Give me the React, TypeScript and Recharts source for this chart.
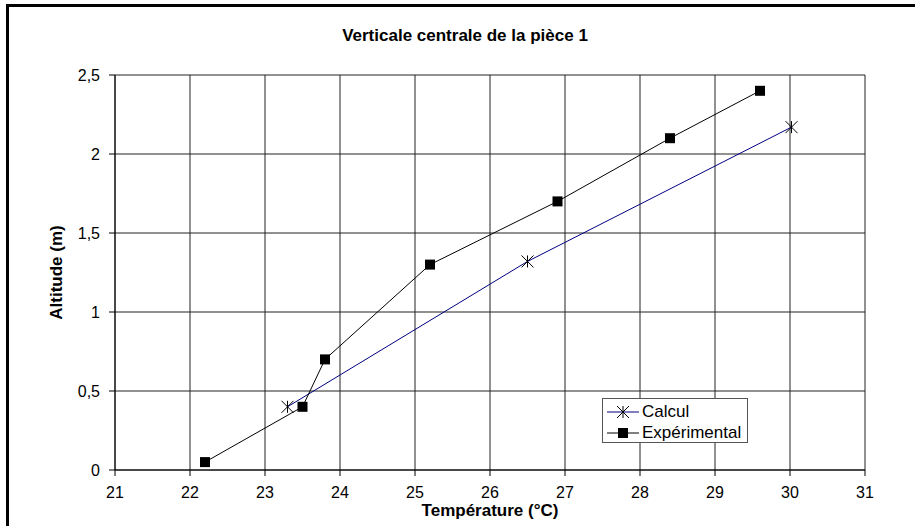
import React from 'react';
import { LineChart, Line, XAxis, YAxis, CartesianGrid, Label } from 'recharts';

const tempTicks = [21, 22, 23, 24, 25, 26, 27, 28, 29, 30, 31];
const altTicks = [0, 0.5, 1, 1.5, 2, 2.5];

const calculTemp = [23.3, 26.5, 30.02];
const calculAlt = [0.4, 1.32, 2.17];

const expTemp = [22.2, 23.5, 23.8, 25.2, 26.9, 28.4, 29.6];
const expAlt = [0.05, 0.4, 0.7, 1.3, 1.7, 2.1, 2.4];

const seriesNames = ['Calcul', 'Expérimental'];

const calculData = calculTemp.map((t, i) => ({ x: t, y: calculAlt[i] }));
const expData = expTemp.map((t, i) => ({ x: t, y: expAlt[i] }));

const FONT = '"Liberation Sans", Arial, sans-serif';

const StarDot = (props: any) => {
  const { cx, cy } = props;
  if (cx == null || cy == null) return null;
  const r = 6;
  return (
    <g stroke="#000" strokeWidth={1}>
      <line x1={cx - r} y1={cy - r} x2={cx + r} y2={cy + r} />
      <line x1={cx - r} y1={cy + r} x2={cx + r} y2={cy - r} />
      <line x1={cx} y1={cy - r} x2={cx} y2={cy + r} />
    </g>
  );
};

const SquareDot = (props: any) => {
  const { cx, cy } = props;
  if (cx == null || cy == null) return null;
  return <rect x={cx - 5} y={cy - 5} width={10} height={10} fill="#000" />;
};

const fmt = (v: number) => String(v).replace('.', ',');

const YTitle = (props: any) => {
  const vb = props.viewBox || { x: 0, y: 0, width: 0, height: 0 };
  const x = vb.x + 62;
  const y = vb.y + vb.height / 2;
  return (
    <text
      x={x}
      y={y}
      transform={`rotate(-90, ${x}, ${y})`}
      textAnchor="middle"
      fontFamily={FONT}
      fontWeight="bold"
      fontSize={17}
      fill="#000"
    >
      {props.value}
    </text>
  );
};

const LegendBox = () => (
  <div
    style={{
      position: 'absolute',
      left: 602,
      top: 398,
      width: 144,
      height: 43,
      border: '1px solid #555',
      background: '#fff',
      fontFamily: FONT,
      fontSize: 17,
    }}
  >
    {seriesNames.map((name, i) => (
      <div key={name} style={{ position: 'absolute', left: 4, top: 3 + i * 21, height: 20, display: 'flex', alignItems: 'center' }}>
        <svg width={32} height={20}>
          <line x1={0} y1={10} x2={32} y2={10} stroke={i === 0 ? '#000080' : '#000'} strokeWidth={1} />
          {i === 0 ? <StarDot cx={16} cy={10} /> : <SquareDot cx={16} cy={10} />}
        </svg>
        <span style={{ marginLeft: 3, lineHeight: '20px' }}>{name}</span>
      </div>
    ))}
  </div>
);

export default function App() {
  return (
    <div style={{ position: 'absolute', left: 0, top: 0, width: 915, height: 526, overflow: 'hidden', background: '#fff' }}>
      <div
        style={{
          position: 'absolute',
          left: 6,
          top: 4,
          width: 1000,
          height: 1000,
          borderLeft: '3px solid #000',
          borderTop: '3px solid #000',
        }}
      />
      <div
        style={{
          position: 'absolute',
          left: 0,
          top: 26,
          width: 930,
          textAlign: 'center',
          fontFamily: FONT,
          fontWeight: 'bold',
          fontSize: 17,
        }}
      >
        Verticale centrale de la pièce 1
      </div>
      <div style={{ position: 'absolute', left: 0, top: 0 }}>
        <LineChart width={915} height={526} margin={{ top: 75, right: 50, bottom: 0, left: 0 }}>
          <CartesianGrid stroke="#222" strokeWidth={1} />
          <XAxis
            type="number"
            dataKey="x"
            domain={[21, 31]}
            ticks={tempTicks}
            height={56}
            stroke="#000"
            tickSize={6}
            tickMargin={11}
            tick={{ fill: '#000', fontSize: 16, fontFamily: FONT }}
            allowDataOverflow
          >
            <Label
              value="Température (°C)"
              position="insideBottom"
              offset={10}
              style={{ fontFamily: FONT, fontWeight: 'bold', fontSize: 17, fill: '#000' }}
            />
          </XAxis>
          <YAxis
            type="number"
            dataKey="y"
            domain={[0, 2.5]}
            ticks={altTicks}
            width={115}
            stroke="#000"
            tickSize={6}
            tickMargin={9}
            tickFormatter={fmt}
            tick={{ fill: '#000', fontSize: 16, fontFamily: FONT }}
            allowDataOverflow
          >
            <Label value="Altitude (m)" content={<YTitle />} />
          </YAxis>
          <Line
            data={calculData}
            dataKey="y"
            name={seriesNames[0]}
            stroke="#000080"
            strokeWidth={1}
            dot={<StarDot />}
            activeDot={false}
            isAnimationActive={false}
          />
          <Line
            data={expData}
            dataKey="y"
            name={seriesNames[1]}
            stroke="#000"
            strokeWidth={1}
            dot={<SquareDot />}
            activeDot={false}
            isAnimationActive={false}
          />
        </LineChart>
      </div>
      <LegendBox />
    </div>
  );
}
